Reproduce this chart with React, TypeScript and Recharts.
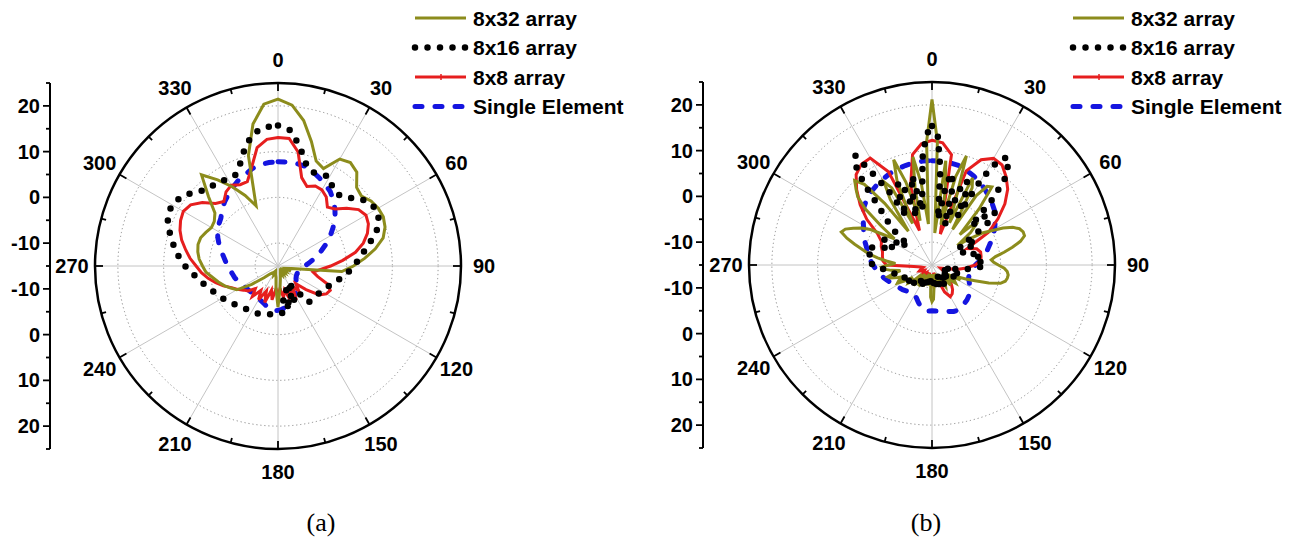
import React from "react";
import {
  ComposedChart,
  PolarAngleAxis,
  PolarGrid,
  PolarRadiusAxis,
  Radar,
  RadarChart,
  YAxis,
} from "recharts";

const WIDTH = 1296;
const HEIGHT = 539;
const OUTER_R = 183;
const FONT = "'Liberation Sans', Arial, sans-serif";

// radial axis in dB: the centre is -15 dB, the outer ring 25 dB
const radialDomain = [-15, 25];
const radialGrid = [-10, 0, 10, 20];

// ticks on the outer ring (labels on every 30 deg)
const ringTicks = [0, 15, 30, 45, 60, 75, 90, 105, 120, 135, 150, 165, 180, 195, 210, 225, 240, 255, 270, 285, 300, 315, 330, 345];
const spokeAngles = [0, 30, 60, 90, 120, 150, 180, 210, 240, 270, 300, 330];

// mirrored side scale, signed distance from the centre in dB (label = |s| - 15)
const sideTicks = [-40, -35, -30, -25, -20, -15, -10, -5, 0, 5, 10, 15, 20, 25, 30, 35, 40];

const seriesNames = ["8x32 array", "8x16 array", "8x8 array", "Single Element"];

// ---- panel (a), 5 deg steps starting at 0 deg, clockwise ----
const a32 = [
  21.5, 20.3, 17.3, 13.2, 9.4, 8.5, 12.0, 12.6, 11.8, 9.3, 8.8, 9.8,
  10.3, 10.4, 9.9, 8.8, 6.6, 4.0, 1.5, -1.0, -12.0, -13.0, -12.0, -13.0,
  -13.5, -13.0, -13.5, -13.0, -13.5, -13.0, -13.5, -13.0, -13.5, -13.0, -12.0, -10.0,
  -6.0, -10.0, -12.5, -13.0, -13.5, -13.0, -13.5, -13.0, -13.0, -12.5, -11.0, -8.0,
  -4.6, -3.6, -2.5, -1.5, -0.5, 0.8, 1.5, 2.3, 2.8, 3.1, 3.0, 2.4,
  1.8, 2.0, 3.0, 6.5, 11.0, 8.0, 5.0, 2.0, -1.0, 10.0, 16.5, 20.5,
];
const a16 = [
  15.7, 14.8, 11.8, 8.3, 6.8, 7.2, 7.5, 5.8, 5.4, 6.1, 8.0, 9.3,
  9.8, 9.3, 8.0, 6.0, 4.2, 2.8, 1.6, 0.4, -0.8, -1.9, -2.8, -3.6,
  -4.1, -4.3, -4.5, -4.6, -4.6, -9.0, -11.0, -6.0, -10.0, -5.0, -8.0, -4.6,
  -4.6, -4.5, -4.3, -4.0, -3.8, -3.6, -3.5, -3.4, -3.0, -2.6, -2.2, -1.6,
  -0.9, -0.4, 0.5, 1.4, 2.5, 3.7, 5.3, 6.7, 8.0, 9.2, 10.6, 11.6,
  11.7, 11.1, 9.8, 8.3, 7.7, 7.5, 6.9, 7.0, 9.0, 12.3, 14.6, 15.5,
];
const a8 = [
  13.1, 13.0, 10.3, 5.0, 3.5, 4.3, 4.2, 3.4, 1.8, 2.6, 4.6, 6.5,
  7.2, 6.8, 5.8, 4.3, 2.2, -0.8, -3.5, -5.8, -7.2, -6.0, -3.5, -2.4,
  -2.8, -4.0, -7.0, -9.5, -8.0, -9.5, -7.5, -9.0, -7.0, -9.5, -8.0, -10.0,
  -8.5, -10.0, -7.5, -9.5, -6.5, -9.0, -6.5, -8.5, -6.3, -8.0, -6.5, -5.8,
  -4.8, -3.8, -2.3, -0.9, 0.5, 1.8, 2.9, 4.3, 5.5, 6.8, 7.8, 8.5,
  8.9, 8.3, 6.6, 4.3, 3.4, 4.8, 5.4, 4.6, 4.6, 7.3, 11.3, 12.8,
];
const aSingle = [
  7.8, 7.8, 7.8, 7.6, 7.0, 6.3, 5.6, 4.9, 3.8, 2.6, 1.3, -0.3,
  -1.8, -3.3, -4.8, -6.0, -7.3, -8.3, -9.2, -9.8, -10.2, -10.4, -10.5, -10.5,
  -10.4, -10.2, -9.8, -9.3, -8.7, -8.2, -7.7, -7.2, -6.7, -6.2, -5.8, -5.5,
  -5.3, -5.2, -5.4, -5.8, -6.2, -6.5, -6.7, -6.8, -6.8, -6.8, -6.7, -6.6,
  -6.3, -6.0, -5.6, -5.2, -4.9, -4.5, -4.0, -3.5, -2.9, -2.1, -1.3, -0.5,
  0.3, 0.8, 1.3, 2.3, 3.2, 4.0, 4.8, 5.6, 6.2, 7.0, 7.5, 7.7,
];

// ---- panel (b): the two big arrays use 2.5 deg steps, the others 5 deg ----
const b32 = [
  21.2, 12.0, -8.0, 8.0, 2.0, -6.0, 5.0, 10.0, 0.0, -5.0, 6.0, 4.0, -6.0, 3.0, 6.0, 6.5, 1.0, -6.0, -3.0, -2.0, -4.0, -8.0, -5.0, -2.0,
  0.0, 2.5, 4.5, 5.7, 6.2, 6.2, 5.0, 3.0, 1.0, -1.0, -2.0, -1.5, -0.5, 0.8, 1.5, 1.8, 1.7, 1.4, 0.5, -2.0, -5.0, -7.0, -9.0, -8.0,
  -10.0, -12.0, -9.0, -8.5, -10.0, -12.0, -10.0, -9.0, -11.0, -12.0, -10.0, -9.5, -11.0, -12.5, -10.5, -10.0, -12.0, -13.0, -11.0, -10.5, -12.0, -13.0, -10.0, -7.5,
  -7.0, -8.0, -12.0, -13.0, -11.0, -10.5, -12.0, -13.0, -11.0, -10.0, -11.5, -12.5, -10.5, -9.5, -11.0, -12.5, -10.0, -9.0, -10.5, -12.0, -9.5, -8.5, -9.0, -10.0,
  -8.0, -6.5, -7.0, -8.5, -7.0, -5.5, -5.0, -6.5, -8.0, -6.0, -4.5, -4.0, -5.5, -7.0, -5.0, -3.0, -1.0, 0.5, 2.5, 4.5, 6.1, 5.5, 4.0, 2.5,
  0.5, -3.0, -5.0, -1.0, 4.0, 7.0, 8.5, 10.0, 8.0, 2.0, -6.0, 2.0, 6.0, 4.0, -5.0, 5.0, 9.5, 4.0, -5.0, 2.0, 9.0, 3.0, -6.0, 12.0,
];
const b16 = [
  15.4, 13.5, 6.0, -5.0, 3.0, 5.5, 2.0, -6.0, 2.5, 5.0, 3.0, -3.0, 7.0, 12.0, 13.8, 12.2, 10.0, 5.0, -3.0, 1.0, 3.0, 1.5, -4.0, -7.8,
  -5.0, -4.0, -6.0, -8.0, -6.5, -5.6, -5.5, -6.5, -4.5, -4.0, -5.0, -4.0, -3.2, -4.5, -6.0, -8.0, -10.0, -12.0, -10.5, -9.0, -10.0, -12.0, -11.0, -9.5,
  -10.5, -12.0, -11.0, -10.0, -11.5, -12.5, -11.0, -10.0, -11.0, -12.0, -11.0, -10.0, -11.5, -12.5, -11.0, -10.0, -11.0, -12.0, -11.5, -10.5, -11.0, -12.0, -11.0, -10.5,
  -11.0, -12.0, -11.0, -10.0, -11.0, -12.0, -11.5, -10.5, -11.0, -12.0, -11.0, -10.0, -10.5, -11.5, -10.5, -10.0, -9.9, -10.5, -9.5, -9.0, -9.5, -10.0, -9.0, -8.5,
  -9.0, -9.5, -8.5, -8.0, -8.2, -7.7, -7.0, -6.5, -6.0, -5.7, -4.5, -3.0, -2.0, -1.7, -1.5, -2.0, -1.0, -0.3, -0.5, -2.0, -4.0, -6.0, -5.0, -3.0,
  -4.0, -6.0, -8.0, -7.0, -8.0, -3.0, -1.0, 2.0, 8.0, 12.5, 14.2, 8.0, 3.0, -3.0, 2.0, 4.5, 3.0, -4.0, 2.0, 5.0, -3.0, 1.4, 8.6, 13.5,
];
const b8 = [
  12.25, 11.8, 9.5, -8.0, 6.9, 10.4, 11.9, 11.7, 10.2, 8.4, 5.8, 2.6,
  -0.8, -6.5, -4.6, -4.0, -4.1, -4.3, -5.5, -7.5, -9.5, -12.0, -13.0, -12.5,
  -12.0, -11.0, -10.0, -9.0, -8.0, -7.3, -7.0, -8.5, -12.0, -13.0, -13.0, -12.0,
  -11.0, -12.0, -12.5, -13.0, -13.0, -12.5, -12.5, -13.0, -12.5, -12.0, -12.5, -13.0,
  -12.5, -12.0, -12.5, -13.0, -12.5, -11.0, -5.0, -4.2, -4.0, -3.8, -3.2, -2.8,
  -1.2, 2.4, 5.5, 8.3, 10.8, 11.9, 12.0, 7.5, -7.0, 3.0, 9.5, 11.6,
];
const bSingle = [
  7.8, 7.8, 7.7, 7.5, 7.0, 6.5, 5.9, 5.2, 4.4, 3.7, 3.0, 1.9,
  0.8, -0.3, -1.5, -2.5, -3.5, -4.5, -5.5, -6.1, -6.5, -6.6, -6.5, -6.0,
  -5.5, -5.0, -4.5, -4.2, -4.0, -3.7, -3.6, -3.8, -4.2, -4.5, -4.8, -4.9,
  -5.0, -4.9, -5.0, -5.5, -6.3, -7.0, -7.5, -7.7, -7.3, -7.0, -6.6, -6.3,
  -6.0, -5.4, -4.8, -4.1, -3.5, -2.8, -2.1, -1.4, -0.8, -0.2, 0.7, 1.5,
  2.3, 3.4, 4.5, 5.2, 5.8, 6.2, 6.6, 7.0, 7.3, 7.5, 7.7, 7.8,
];

const seriesStyle: Record<string, any> = {
  "8x32 array": { stroke: "#8c8c1c", strokeWidth: 3 },
  "8x16 array": { stroke: "#000", strokeWidth: 6.5, strokeDasharray: "0 12.5", strokeLinecap: "round" },
  "8x8 array": { stroke: "#e61e1e", strokeWidth: 3 },
  "Single Element": { stroke: "#1515e0", strokeWidth: 5, strokeDasharray: "7 13", strokeLinecap: "round" },
};

// drawing order, bottom first
const drawOrder = ["Single Element", "8x8 array", "8x32 array", "8x16 array"];

const panels = [
  {
    id: "a", cx: 278, cy: 266, axisLeft: 0, legendLeft: 412, caption: "(a)", captionX: 321,
    series: { "8x32 array": a32, "8x16 array": a16, "8x8 array": a8, "Single Element": aSingle } as Record<string, number[]>,
  },
  {
    id: "b", cx: 932, cy: 265, axisLeft: 653, legendLeft: 1070, caption: "(b)", captionX: 926,
    series: { "8x32 array": b32, "8x16 array": b16, "8x8 array": b8, "Single Element": bSingle } as Record<string, number[]>,
  },
];

function polarRows(values: number[]) {
  const step = 360 / values.length;
  return values.map((v, i) => ({ angle: i * step, v }));
}

// radius of a dB level on the radial axis (for the dotted rings)
function ringRadius(db: number) {
  return ((db - radialDomain[0]) / (radialDomain[1] - radialDomain[0])) * OUTER_R;
}

const noMargin = { top: 0, right: 0, bottom: 0, left: 0 };

function makeRingTick(cx: number, cy: number) {
  return (props: any) => {
    const deg = Number(props.payload?.value);
    const rad = ((90 - deg) * Math.PI) / 180;
    const ux = Math.cos(rad);
    const uy = -Math.sin(rad);
    const major = deg % 30 === 0;
    const len = major ? 8 : 5;
    const lr = OUTER_R + 23;
    return (
      <g>
        <line x1={cx + ux * OUTER_R} y1={cy + uy * OUTER_R} x2={cx + ux * (OUTER_R - len)} y2={cy + uy * (OUTER_R - len)} stroke="#000" strokeWidth={1.8} />
        {major ? (
          <text x={cx + ux * lr} y={cy + uy * lr} textAnchor="middle" dominantBaseline="central" fontFamily={FONT} fontWeight="bold" fontSize={20} fill="#000">
            {deg}
          </text>
        ) : null}
      </g>
    );
  };
}

function Frame({ cx, cy }: { cx: number; cy: number }) {
  const rows = ringTicks.map((a) => ({ angle: a }));
  return (
    <div style={{ position: "absolute", left: 0, top: 0 }}>
      <RadarChart width={WIDTH} height={HEIGHT} data={rows} cx={cx} cy={cy} outerRadius={OUTER_R} startAngle={90} endAngle={-270} margin={noMargin}>
        <PolarGrid gridType="circle" radialLines={false} polarRadius={radialGrid.map(ringRadius)} stroke="#8a8a8a" strokeWidth={1} strokeDasharray="1.2 2.8" />
        <PolarGrid gridType="circle" polarAngles={spokeAngles} polarRadius={[]} stroke="#c4c4c4" />
        <PolarAngleAxis dataKey="angle" axisLineType="circle" axisLine={{ stroke: "#000", strokeWidth: 2.5 }} tickLine={false} tick={makeRingTick(cx, cy)} />
        <PolarRadiusAxis domain={radialDomain} tick={false} axisLine={false} />
      </RadarChart>
    </div>
  );
}

function SeriesLayer({ cx, cy, name, values }: { cx: number; cy: number; name: string; values: number[] }) {
  return (
    <div style={{ position: "absolute", left: 0, top: 0 }}>
      <RadarChart width={WIDTH} height={HEIGHT} data={polarRows(values)} cx={cx} cy={cy} outerRadius={OUTER_R} startAngle={90} endAngle={-270} margin={noMargin}>
        <PolarAngleAxis dataKey="angle" type="number" domain={[0, 360]} tick={false} tickLine={false} axisLine={false} />
        <PolarRadiusAxis domain={radialDomain} tick={false} axisLine={false} />
        <Radar name={name} dataKey="v" fill="none" fillOpacity={0} dot={false} isAnimationActive={false} {...seriesStyle[name]} />
      </RadarChart>
    </div>
  );
}

function SideTick(props: any) {
  const s = Number(props.payload?.value);
  const major = Math.abs(s) % 10 === 5;
  const len = major ? 7 : 4;
  const { x, y } = props;
  return (
    <g>
      <line x1={x} x2={x - len} y1={y} y2={y} stroke="#000" strokeWidth={1.8} />
      {major ? (
        <text x={x - 10} y={y} textAnchor="end" dominantBaseline="central" fontFamily={FONT} fontWeight="bold" fontSize={20} fill="#000">
          {Math.abs(s) - 15}
        </text>
      ) : null}
    </g>
  );
}

function SideScale({ left, cy }: { left: number; cy: number }) {
  return (
    <div style={{ position: "absolute", left, top: 0 }}>
      <ComposedChart width={60} height={HEIGHT} data={[{ s: 0 }]} margin={{ top: cy - OUTER_R, bottom: HEIGHT - cy - OUTER_R, left: 0, right: 0 }}>
        <YAxis dataKey="s" type="number" domain={[-40, 40]} ticks={sideTicks} interval={0} width={50} tickSize={0} tickMargin={0} tickLine={false} axisLine={{ stroke: "#000", strokeWidth: 2 }} tick={SideTick} allowDataOverflow />
      </ComposedChart>
    </div>
  );
}

function LegendBlock({ left }: { left: number }) {
  return (
    <svg style={{ position: "absolute", left, top: 0, overflow: "visible" }} width={240} height={125}>
      {seriesNames.map((name, i) => {
        const y = 18 + i * 29.5;
        const st = seriesStyle[name];
        return (
          <g key={name}>
            <line x1={3} x2={54} y1={y} y2={y} {...st} />
            {name === "8x8 array" ? <line x1={29} x2={29} y1={y - 3} y2={y + 3} stroke={st.stroke} strokeWidth={1.5} /> : null}
            <text x={61} y={y} dominantBaseline="central" fontFamily={FONT} fontWeight="bold" fontSize={21} fill="#000">
              {name}
            </text>
          </g>
        );
      })}
    </svg>
  );
}

export default function App() {
  return (
    <div style={{ position: "absolute", left: 0, top: 0, width: WIDTH, height: HEIGHT, background: "#fff", overflow: "hidden", fontFamily: FONT }}>
      {panels.map((p) => (
        <React.Fragment key={p.id}>
          <Frame cx={p.cx} cy={p.cy} />
          {drawOrder.map((name) => (
            <SeriesLayer key={name} cx={p.cx} cy={p.cy} name={name} values={p.series[name]} />
          ))}
          <SideScale left={p.axisLeft} cy={p.cy} />
          <LegendBlock left={p.legendLeft} />
          <div style={{ position: "absolute", left: p.captionX, top: 508, transform: "translateX(-50%)", fontFamily: "'Liberation Serif', 'Times New Roman', serif", fontSize: 26, color: "#000" }}>
            {p.caption}
          </div>
        </React.Fragment>
      ))}
    </div>
  );
}
